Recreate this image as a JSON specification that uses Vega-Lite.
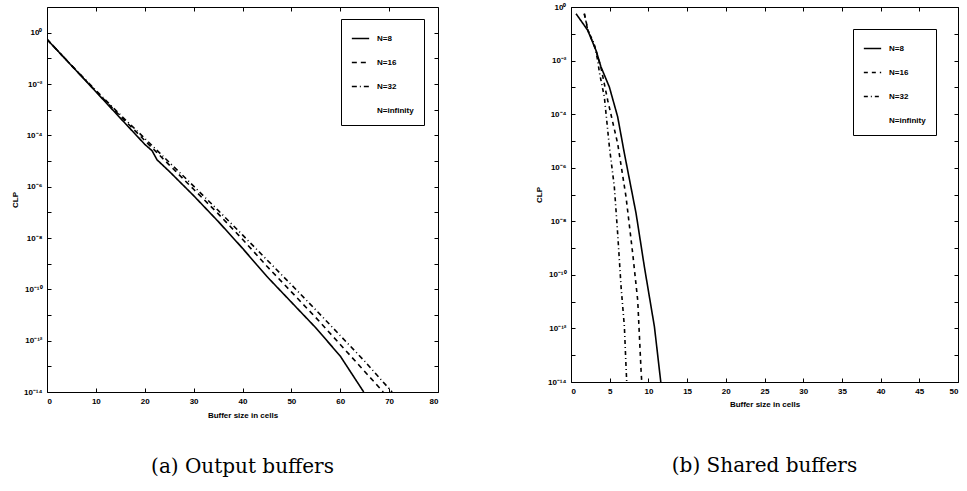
{
  "$schema": "https://vega.github.io/schema/vega-lite/v6.json",
  "padding": {"left": 10, "top": 2, "right": 5, "bottom": 5},
  "bounds": "flush",
  "spacing": 133,
  "background": "white",
  "config": {
    "view": {"stroke": "black", "strokeWidth": 1},
    "font": "Liberation Sans",
    "axis": {
      "grid": false,
      "domain": false,
      "tickColor": "black",
      "tickSize": -4,
      "tickWidth": 1,
      "labelPadding": 9,
      "labelColor": "black",
      "labelFont": "Liberation Sans",
      "labelFontSize": 8,
      "labelFontWeight": "bold",
      "titleColor": "black",
      "titleFont": "Liberation Sans",
      "titleFontSize": 8,
      "titleFontWeight": "bold"
    },
    "legend": {
      "strokeColor": "black",
      "strokeWidth": 1,
      "fillColor": "white",
      "padding": 10,
      "symbolType": "stroke",
      "symbolStrokeWidth": 1.5,
      "symbolSize": 300,
      "labelFont": "Liberation Sans",
      "labelFontSize": 8,
      "labelFontWeight": "bold",
      "labelColor": "black",
      "rowPadding": 10,
      "labelOffset": 7
    }
  },
  "datasets": {
    "a": [
      {"N": "N=8", "x": 0, "clp": 0.55},
      {"N": "N=8", "x": 5, "clp": 0.0525},
      {"N": "N=8", "x": 10, "clp": 0.005},
      {"N": "N=8", "x": 15, "clp": 4.68e-4},
      {"N": "N=8", "x": 20, "clp": 4.47e-5},
      {"N": "N=8", "x": 21.5, "clp": 2.51e-5},
      {"N": "N=8", "x": 22.5, "clp": 1.12e-5},
      {"N": "N=8", "x": 25, "clp": 3.98e-6},
      {"N": "N=8", "x": 30, "clp": 4.47e-7},
      {"N": "N=8", "x": 35, "clp": 4.47e-8},
      {"N": "N=8", "x": 40, "clp": 3.98e-9},
      {"N": "N=8", "x": 45, "clp": 3.16e-10},
      {"N": "N=8", "x": 50, "clp": 3.16e-11},
      {"N": "N=8", "x": 55, "clp": 3.16e-12},
      {"N": "N=8", "x": 60, "clp": 2.51e-13},
      {"N": "N=8", "x": 64.8, "clp": 1e-14},
      {"N": "N=16", "x": 0, "clp": 0.55},
      {"N": "N=16", "x": 5, "clp": 0.0525},
      {"N": "N=16", "x": 10, "clp": 5.25e-3},
      {"N": "N=16", "x": 15, "clp": 5.62e-4},
      {"N": "N=16", "x": 20, "clp": 6.31e-5},
      {"N": "N=16", "x": 25, "clp": 7.08e-6},
      {"N": "N=16", "x": 30, "clp": 7.94e-7},
      {"N": "N=16", "x": 35, "clp": 8.91e-8},
      {"N": "N=16", "x": 40, "clp": 8.91e-9},
      {"N": "N=16", "x": 45, "clp": 7.94e-10},
      {"N": "N=16", "x": 50, "clp": 7.94e-11},
      {"N": "N=16", "x": 55, "clp": 7.94e-12},
      {"N": "N=16", "x": 60, "clp": 7.08e-13},
      {"N": "N=16", "x": 65, "clp": 6.31e-14},
      {"N": "N=16", "x": 68.8, "clp": 1e-14},
      {"N": "N=32", "x": 0, "clp": 0.55},
      {"N": "N=32", "x": 5, "clp": 0.0537},
      {"N": "N=32", "x": 10, "clp": 5.62e-3},
      {"N": "N=32", "x": 15, "clp": 6.31e-4},
      {"N": "N=32", "x": 20, "clp": 7.59e-5},
      {"N": "N=32", "x": 25, "clp": 8.91e-6},
      {"N": "N=32", "x": 30, "clp": 1.05e-6},
      {"N": "N=32", "x": 35, "clp": 1.2e-7},
      {"N": "N=32", "x": 40, "clp": 1.32e-8},
      {"N": "N=32", "x": 45, "clp": 1.41e-9},
      {"N": "N=32", "x": 50, "clp": 1.51e-10},
      {"N": "N=32", "x": 55, "clp": 1.58e-11},
      {"N": "N=32", "x": 60, "clp": 1.58e-12},
      {"N": "N=32", "x": 65, "clp": 1.58e-13},
      {"N": "N=32", "x": 70.6, "clp": 1e-14},
      {"N": "N=infinity", "x": 0, "clp": 0.55},
      {"N": "N=infinity", "x": 20, "clp": 8.0e-5},
      {"N": "N=infinity", "x": 40, "clp": 1.5e-8},
      {"N": "N=infinity", "x": 71.2, "clp": 1e-14}
    ],
    "b": [
      {"N": "N=8", "x": 0.65, "clp": 0.562},
      {"N": "N=8", "x": 2.16, "clp": 0.135},
      {"N": "N=8", "x": 3.23, "clp": 0.024},
      {"N": "N=8", "x": 3.88, "clp": 5.75e-3},
      {"N": "N=8", "x": 4.96, "clp": 1.02e-3},
      {"N": "N=8", "x": 6.03, "clp": 7.94e-5},
      {"N": "N=8", "x": 6.9, "clp": 3.39e-6},
      {"N": "N=8", "x": 8.41, "clp": 1.95e-8},
      {"N": "N=8", "x": 9.48, "clp": 2.0e-10},
      {"N": "N=8", "x": 10.78, "clp": 1.15e-12},
      {"N": "N=8", "x": 11.6, "clp": 1e-14},
      {"N": "N=16", "x": 1.72, "clp": 0.562},
      {"N": "N=16", "x": 2.2, "clp": 0.135},
      {"N": "N=16", "x": 3.23, "clp": 0.024},
      {"N": "N=16", "x": 3.9, "clp": 5.01e-3},
      {"N": "N=16", "x": 4.74, "clp": 3.31e-4},
      {"N": "N=16", "x": 6.03, "clp": 7.94e-6},
      {"N": "N=16", "x": 7.11, "clp": 8.13e-8},
      {"N": "N=16", "x": 7.97, "clp": 6.31e-10},
      {"N": "N=16", "x": 8.62, "clp": 1.12e-11},
      {"N": "N=16", "x": 9.05, "clp": 2.75e-14},
      {"N": "N=16", "x": 9.14, "clp": 1e-14},
      {"N": "N=32", "x": 1.72, "clp": 0.562},
      {"N": "N=32", "x": 2.16, "clp": 0.135},
      {"N": "N=32", "x": 3.0, "clp": 0.0427},
      {"N": "N=32", "x": 3.45, "clp": 0.0102},
      {"N": "N=32", "x": 3.66, "clp": 3.72e-3},
      {"N": "N=32", "x": 4.31, "clp": 4.37e-4},
      {"N": "N=32", "x": 4.96, "clp": 6.03e-6},
      {"N": "N=32", "x": 5.6, "clp": 1.91e-7},
      {"N": "N=32", "x": 6.03, "clp": 3.47e-9},
      {"N": "N=32", "x": 6.47, "clp": 3.55e-11},
      {"N": "N=32", "x": 6.9, "clp": 1.15e-12},
      {"N": "N=32", "x": 7.11, "clp": 3.72e-14},
      {"N": "N=32", "x": 7.2, "clp": 1e-14},
      {"N": "N=infinity", "x": 1.72, "clp": 0.562},
      {"N": "N=infinity", "x": 4.3, "clp": 4.0e-4},
      {"N": "N=infinity", "x": 7.0, "clp": 1e-14}
    ]
  },
  "hconcat": [
    {
      "width": 391,
      "height": 385,
      "title": {"text": "(a) Output buffers", "orient": "bottom", "anchor": "middle", "font": "DejaVu Serif", "fontSize": 20, "fontWeight": "normal", "color": "black", "offset": 38},
      "data": {"name": "a"},
      "layer": [
        {
          "mark": {"type": "line", "strokeWidth": 1.6, "clip": true},
          "encoding": {
            "x": {"field": "x", "type": "quantitative", "scale": {"domain": [0, 80], "nice": false, "zero": false},
                  "axis": {"orient": "bottom", "values": [0, 10, 20, 30, 40, 50, 60, 70, 80], "title": "Buffer size in cells", "titlePadding": 6}},
            "y": {"field": "clp", "type": "quantitative", "scale": {"type": "log", "domain": [1e-14, 10], "nice": false},
                  "axis": {"orient": "left", "title": "CLP", "values": [1e-14, 1e-13, 1e-12, 1e-11, 1e-10, 1e-9, 1e-8, 1e-7, 1e-6, 1e-5, 1e-4, 1e-3, 0.01, 0.1, 1],
                           "labelExpr": "datum.value > 0.5 ? '10⁰' : datum.value > 0.05 ? '' : datum.value > 0.005 ? '10⁻²' : datum.value > 5e-4 ? '' : datum.value > 5e-5 ? '10⁻⁴' : datum.value > 5e-6 ? '' : datum.value > 5e-7 ? '10⁻⁶' : datum.value > 5e-8 ? '' : datum.value > 5e-9 ? '10⁻⁸' : datum.value > 5e-10 ? '' : datum.value > 5e-11 ? '10⁻¹⁰' : datum.value > 5e-12 ? '' : datum.value > 5e-13 ? '10⁻¹²' : datum.value > 5e-14 ? '' : '10⁻¹⁴'"}},
            "strokeDash": {"field": "N", "type": "nominal",
                           "scale": {"domain": ["N=8", "N=16", "N=32", "N=infinity"], "range": [[1, 0], [5, 4], [5, 3, 1, 3], [1, 0]]},
                           "legend": {"title": null, "orient": "none", "legendX": 294, "legendY": 12}},
            "color": {"field": "N", "type": "nominal",
                           "scale": {"domain": ["N=8", "N=16", "N=32", "N=infinity"], "range": ["black", "black", "black", "transparent"]},
                           "legend": {"title": null, "orient": "none", "legendX": 294, "legendY": 12}}
          }
        },
        {
          "mark": {"type": "line", "opacity": 0},
          "encoding": {
            "x": {"field": "x", "type": "quantitative", "axis": {"orient": "top", "values": [0, 10, 20, 30, 40, 50, 60, 70, 80], "labels": false, "title": null}},
            "y": {"field": "clp", "type": "quantitative", "axis": {"orient": "right", "values": [1e-14, 1e-13, 1e-12, 1e-11, 1e-10, 1e-9, 1e-8, 1e-7, 1e-6, 1e-5, 1e-4, 1e-3, 0.01, 0.1, 1], "labels": false, "title": null}},
            "detail": {"field": "N", "type": "nominal"}
          }
        }
      ]
    },
    {
      "width": 387,
      "height": 375,
      "title": {"text": "(b) Shared buffers", "orient": "bottom", "anchor": "middle", "font": "DejaVu Serif", "fontSize": 20, "fontWeight": "normal", "color": "black", "offset": 48},
      "data": {"name": "b"},
      "layer": [
        {
          "mark": {"type": "line", "strokeWidth": 1.6, "clip": true},
          "encoding": {
            "x": {"field": "x", "type": "quantitative", "scale": {"domain": [0, 50], "nice": false, "zero": false},
                  "axis": {"orient": "bottom", "values": [0, 5, 10, 15, 20, 25, 30, 35, 40, 45, 50], "title": "Buffer size in cells", "titlePadding": 5}},
            "y": {"field": "clp", "type": "quantitative", "scale": {"type": "log", "domain": [1e-14, 1], "nice": false},
                  "axis": {"orient": "left", "title": "CLP", "values": [1e-14, 1e-13, 1e-12, 1e-11, 1e-10, 1e-9, 1e-8, 1e-7, 1e-6, 1e-5, 1e-4, 1e-3, 0.01, 0.1, 1],
                           "labelExpr": "datum.value > 0.5 ? '10⁰' : datum.value > 0.05 ? '' : datum.value > 0.005 ? '10⁻²' : datum.value > 5e-4 ? '' : datum.value > 5e-5 ? '10⁻⁴' : datum.value > 5e-6 ? '' : datum.value > 5e-7 ? '10⁻⁶' : datum.value > 5e-8 ? '' : datum.value > 5e-9 ? '10⁻⁸' : datum.value > 5e-10 ? '' : datum.value > 5e-11 ? '10⁻¹⁰' : datum.value > 5e-12 ? '' : datum.value > 5e-13 ? '10⁻¹²' : datum.value > 5e-14 ? '' : '10⁻¹⁴'"}},
            "strokeDash": {"field": "N", "type": "nominal",
                           "scale": {"domain": ["N=8", "N=16", "N=32", "N=infinity"], "range": [[1, 0], [4, 4], [4, 3, 1, 3], [1, 0]]},
                           "legend": {"title": null, "orient": "none", "legendX": 282, "legendY": 22}},
            "color": {"field": "N", "type": "nominal",
                           "scale": {"domain": ["N=8", "N=16", "N=32", "N=infinity"], "range": ["black", "black", "black", "transparent"]},
                           "legend": {"title": null, "orient": "none", "legendX": 282, "legendY": 22}}
          }
        },
        {
          "mark": {"type": "line", "opacity": 0},
          "encoding": {
            "x": {"field": "x", "type": "quantitative", "axis": {"orient": "top", "values": [0, 5, 10, 15, 20, 25, 30, 35, 40, 45, 50], "labels": false, "title": null}},
            "y": {"field": "clp", "type": "quantitative", "axis": {"orient": "right", "values": [1e-14, 1e-13, 1e-12, 1e-11, 1e-10, 1e-9, 1e-8, 1e-7, 1e-6, 1e-5, 1e-4, 1e-3, 0.01, 0.1, 1], "labels": false, "title": null}},
            "detail": {"field": "N", "type": "nominal"}
          }
        }
      ]
    }
  ],
  "resolve": {
    "scale": {"strokeDash": "independent", "color": "independent"},
    "legend": {"strokeDash": "independent", "color": "independent"}
  }
}
